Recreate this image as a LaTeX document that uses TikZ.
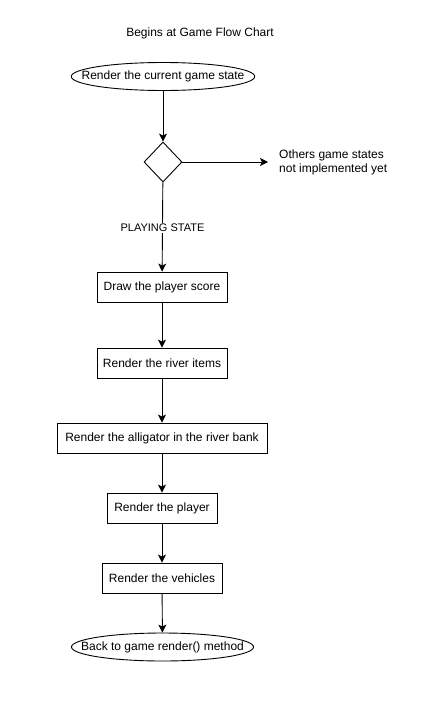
\documentclass[tikz,border=0pt]{standalone}
\usepackage{fontspec}
\setmainfont{Liberation Sans}
\usetikzlibrary{positioning,arrows.meta,shapes.geometric}

\begin{document}
\begin{tikzpicture}[
  x=1pt, y=-1pt,
  font=\fontsize{12}{14}\selectfont,
  stepbox/.style={draw, line width=0.9pt, inner sep=0pt, minimum height=30pt, minimum width=#1},
  stepbox/.default=130pt,
  term/.style={draw, ellipse, line width=0.9pt, inner ysep=0pt, inner xsep=#1, minimum height=28pt},
  term/.default=-16.5pt,
  decide/.style={draw, diamond, line width=0.9pt, inner sep=0pt, minimum width=38pt, minimum height=40pt},
  arr/.style={-{Stealth[length=8pt, width=8pt, inset=2pt]}, line width=0.9pt},
  note/.style={align=left, inner sep=0pt},
]
\useasboundingbox (0,0) rectangle (435,720);

% Title
\node (title) at (200,33) {Begins at Game Flow Chart};

% Start
\node[term] (start) at (163,76.5) {Render the current game state};

% Decision on state
\node[decide] (state) at (163,162) {};
\node[note, anchor=west] (other) at (279,162) {Others game states\\not implemented yet};

% Playing state steps
\node[stepbox] (score) at (162,287) {Draw the player score};
\node[stepbox] (river) at (162,363) {Render the river items};
\node[stepbox=210pt] (gator) at (162,438) {Render the alligator in the river bank};
\node[stepbox=110pt] (player) at (162,508) {Render the player};
\node[stepbox=120pt] (cars) at (162,578) {Render the vehicles};

% End
\node[term=-17pt] (back) at (162.5,647) {Back to game render() method};

% Arrows
\draw[arr] (start) -- (state);
\draw[arr] (state.east) -- (other.west -| 268,0);
\draw[arr] (state) -- (score) node[pos=0.51, fill=white, inner sep=1pt, font=\fontsize{11}{13}\selectfont] (play) {PLAYING STATE};
\draw[arr] (score) -- (river);
\draw[arr] (river) -- (gator);
\draw[arr] (gator) -- (player);
\draw[arr] (player) -- (cars);
\draw[arr] (cars) -- (back);
\end{tikzpicture}
\end{document}
